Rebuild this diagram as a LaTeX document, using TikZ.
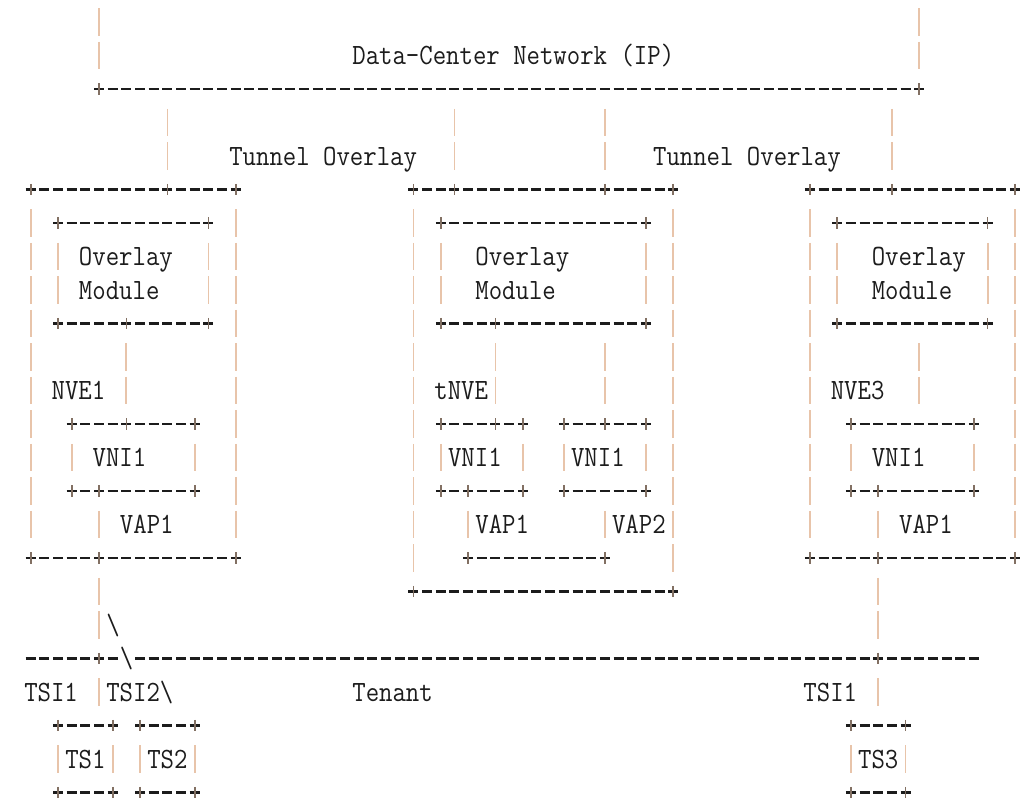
\documentclass[tikz,border=0pt]{standalone}
\usepackage{graphicx}
\usepackage{tikz}
\definecolor{barcol}{RGB}{232,196,170}
\definecolor{inkcol}{RGB}{28,28,28}
\tikzstyle{dashrule}=[draw=inkcol,line width=1.1pt,
  dash pattern=on 5pt off 1.835pt,dash phase=5.9175pt]
\tikzstyle{barrule}=[draw=barcol,line width=0.9pt,
  dash pattern=on 13.75pt off 3pt,dash phase=15.25pt]
\tikzstyle{crossbar}=[draw=barcol!50!inkcol,line width=0.8pt]
\tikzstyle{lbl}=[inner sep=0pt,anchor=base west,text=inkcol,
  font=\ttfamily\fontsize{13.02pt}{15pt}\selectfont]
\newcommand\txt[1]{\scalebox{1}[1.13]{#1}}
% one row of dashes, cells #2..#3 on row #1
\newcommand\hrun[3]{\draw[dashrule] (#2-0.5,#1) -- (#3+0.5,#1);}
% one column of bars, col #1, rows #2..#3
\newcommand\vrun[3]{\draw[barrule] (#1,#2-0.5) -- (#1,#3+0.5);}
\newcommand\cross[2]{\draw[crossbar] (#1,#2-0.17) -- (#1,#2+0.17);}

\begin{document}
\begin{tikzpicture}[x=6.835pt,y=-16.75pt]
\fill[white] (-2.2458,-0.6567) rectangle (72.956,23.164);
\useasboundingbox (-2.2458,-0.6567) rectangle (72.956,23.164);

% data-center network
\vrun{5}{0}{1} \vrun{65}{0}{1}
\node[lbl] (dcn) at (23.5,1.28) {\txt{Data-Center Network (IP)}};
\hrun{2}{5}{65}
\foreach \c in {5,65} {\cross{\c}{2}}

% tunnels
\foreach \c in {10,31,42,63} {\vrun{\c}{3}{4}}
\node[lbl] (tunA) at (14.5,4.28) {\txt{Tunnel Overlay}};
\node[lbl] (tunB) at (45.5,4.28) {\txt{Tunnel Overlay}};

% outer boxes
\hrun{5}{0}{15} \hrun{5}{28}{47} \hrun{5}{57}{72}
\foreach \c in {0,10,15,28,31,42,47,57,63,72} {\cross{\c}{5}}
\foreach \c in {0,15,57,72} {\vrun{\c}{6}{15}}
\foreach \c in {28,47} {\vrun{\c}{6}{16}}

% overlay modules
\hrun{6}{2}{13} \hrun{6}{30}{45} \hrun{6}{59}{70}
\foreach \c in {2,13,30,45,59,70} {\cross{\c}{6} \vrun{\c}{7}{8}}
\node[lbl] (omA) at (3.5,7.28) {\txt{Overlay}};
\node[lbl] (omB) at (32.5,7.28) {\txt{Overlay}};
\node[lbl] (omC) at (61.5,7.28) {\txt{Overlay}};
\node[lbl] (mdA) at (3.5,8.28) {\txt{Module}};
\node[lbl] (mdB) at (32.5,8.28) {\txt{Module}};
\node[lbl] (mdC) at (61.5,8.28) {\txt{Module}};
\hrun{9}{2}{13} \hrun{9}{30}{45} \hrun{9}{59}{70}
\foreach \c in {2,7,13,30,34,45,59,70} {\cross{\c}{9}}
\foreach \c in {7,34,42,65} {\vrun{\c}{10}{11}}
\node[lbl] (nveA) at (1.5,11.28) {\txt{NVE1}};
\node[lbl] (tnve) at (29.5,11.28) {\txt{tNVE}};
\node[lbl] (nveC) at (58.5,11.28) {\txt{NVE3}};

% vni boxes
\hrun{12}{3}{12} \hrun{12}{30}{36} \hrun{12}{39}{45} \hrun{12}{60}{69}
\foreach \c in {3,7,12,30,34,36,39,42,45,60,69} {\cross{\c}{12}}
\foreach \c in {3,12,30,36,39,45,60,69} {\vrun{\c}{13}{13}}
\node[lbl] (vniA) at (4.5,13.28) {\txt{VNI1}};
\node[lbl] (vniB) at (30.5,13.28) {\txt{VNI1}};
\node[lbl] (vniD) at (39.5,13.28) {\txt{VNI1}};
\node[lbl] (vniC) at (61.5,13.28) {\txt{VNI1}};
\hrun{14}{3}{12} \hrun{14}{30}{36} \hrun{14}{39}{45} \hrun{14}{60}{69}
\foreach \c in {3,5,12,30,32,36,39,45,60,62,69} {\cross{\c}{14}}
\foreach \c in {5,32,42,62} {\vrun{\c}{15}{15}}
\node[lbl] (vapA) at (6.5,15.28) {\txt{VAP1}};
\node[lbl] (vapB) at (32.5,15.28) {\txt{VAP1}};
\node[lbl] (vapD) at (42.5,15.28) {\txt{VAP2}};
\node[lbl] (vapC) at (63.5,15.28) {\txt{VAP1}};
\hrun{16}{0}{15} \hrun{16}{32}{42} \hrun{16}{57}{72}
\foreach \c in {0,5,15,32,42,57,62,72} {\cross{\c}{16}}
\hrun{17}{28}{47}
\foreach \c in {28,47} {\cross{\c}{17}}

% tenant segment
\foreach \c in {5,62} {\vrun{\c}{17}{18}}
\node[lbl] (bsA) at (5.5,18.28) {\txt{\textbackslash}};
\hrun{19}{0}{6} \hrun{19}{8}{69}
\node[lbl] (bsB) at (6.5,19.28) {\txt{\textbackslash}};
\foreach \c in {5,62} {\cross{\c}{19} \vrun{\c}{20}{20}}
\node[lbl] (tsiA) at (-0.5,20.28) {\txt{TSI1}};
\node[lbl] (tsiB) at (5.5,20.28) {\txt{TSI2\textbackslash}};
\node[lbl] (tenant) at (23.5,20.28) {\txt{Tenant}};
\node[lbl] (tsiC) at (56.5,20.28) {\txt{TSI1}};

% tenant systems
\foreach \r in {21,23} {
  \hrun{\r}{2}{6} \hrun{\r}{8}{12} \hrun{\r}{60}{64}
  \foreach \c in {2,6,8,12,60,64} {\cross{\c}{\r}}
}
\foreach \c in {2,6,8,12,60,64} {\vrun{\c}{22}{22}}
\node[lbl] (tsA) at (2.5,22.28) {\txt{TS1}};
\node[lbl] (tsB) at (8.5,22.28) {\txt{TS2}};
\node[lbl] (tsC) at (60.5,22.28) {\txt{TS3}};
\end{tikzpicture}
\end{document}
